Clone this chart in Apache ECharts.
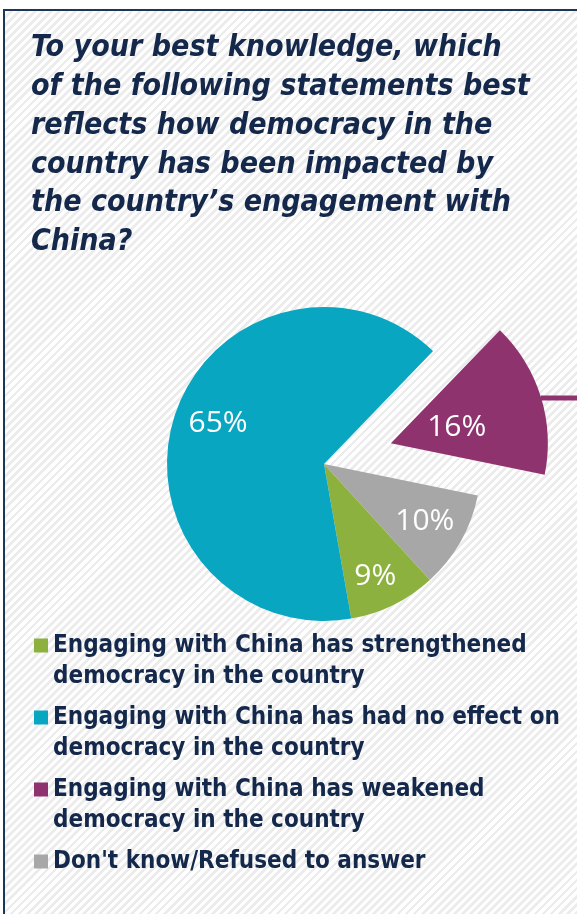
<!DOCTYPE html>
<html><head><meta charset="utf-8">
<script src="https://cdn.jsdelivr.net/npm/echarts@6/dist/echarts.min.js"></script>
<style>
html,body{margin:0;padding:0;background:#fff;}
#wrap{position:relative;width:577px;height:914px;overflow:hidden;background:#fff;}
#frame{position:absolute;left:3px;top:9px;width:600px;height:920px;border-top:2px solid #1d3557;border-left:2px solid #1d3557;
background:repeating-linear-gradient(135deg,#ffffff 0px,#ffffff 3px,#ececec 3px,#ececec 5.7px);}
#chart{position:absolute;left:0;top:0;width:577px;height:914px;}
</style></head>
<body><div id="wrap"><div id="frame"></div><div id="chart"></div></div>
<script>
// ---- data ----
const titleLines = [
  "To your best knowledge, which",
  "of the following statements best",
  "reflects how democracy in the",
  "country has been impacted by",
  "the country\u2019s engagement with",
  "China?"
];
const categories = [
  "Engaging with China has strengthened democracy in the country",
  "Engaging with China has had no effect on democracy in the country",
  "Engaging with China has weakened democracy in the country",
  "Don't know/Refused to answer"
];
const legendLines = [
  ["Engaging with China has strengthened", "democracy in the country"],
  ["Engaging with China has had no effect on", "democracy in the country"],
  ["Engaging with China has weakened", "democracy in the country"],
  ["Don't know/Refused to answer", " "]
];
const values = [9, 65, 16, 10];
const pieOrder = [2, 3, 0, 1];   // clockwise order of slices
const explodedIndex = 2;

// ---- styling ----
const palette = ['#8DB13F', '#08A6C1', '#8F336F', '#A7A7A8'];
const navy = '#14284B';

// font helpers (pick an installed family, fit size to the reference text widths)
const cv = document.createElement('canvas').getContext('2d');
function w(font, s) { cv.font = font; return cv.measureText(s).width; }
function installed(fam, style) {
  const s = 'mmmmmmmmmmlliiWWW@#0123';
  return w(style + ' 30px "' + fam + '", monospace', s) !== w(style + ' 30px monospace', s) &&
         w(style + ' 30px "' + fam + '", serif', s) !== w(style + ' 30px serif', s);
}
const fam = installed('DejaVu Sans Condensed', 'italic bold') ? 'DejaVu Sans Condensed' : 'DejaVu Sans';
const titleSize = 30 * 499 / w('italic bold 30px "' + fam + '"', titleLines[1]);
const legendSize = 30 * 507 / w('bold 30px "' + fam + '"', legendLines[1][0]);

// per-slice label nudges
const labelCfg = {
  0: {padding: [0, 0, 0, 0], lineHeight: 17, pre: '\n', post: ''},
  1: {padding: [0, 0, 0, 10], lineHeight: 14, pre: '', post: '\n'},
  2: {padding: [0, 90, 0, 0], lineHeight: 36, pre: '\n', post: ''},
  3: {padding: [0, 0, 0, 0], lineHeight: 30, pre: '', post: ''}
};

const solidData = pieOrder.map(i => ({
  name: categories[i], value: values[i], selected: i === explodedIndex,
  itemStyle: {color: palette[i]}
}));
const labelData = pieOrder.map(i => ({
  name: categories[i], value: values[i], selected: i === explodedIndex,
  label: {
    padding: labelCfg[i].padding, lineHeight: labelCfg[i].lineHeight,
    formatter: labelCfg[i].pre + values[i] + '%' + labelCfg[i].post
  }
}));

const iconTop = 'path://M0,8.5H14V22.5H0Z M0,0L0,0 M14,62L14,62';

const chart = echarts.init(document.getElementById('chart'), null, {renderer: 'canvas'});
chart.setOption({
  animation: false,
  backgroundColor: 'transparent',
  title: {
    text: titleLines.join('\n'),
    left: 31, top: 29, padding: 0,
    textStyle: {
      fontFamily: fam, fontStyle: 'italic', fontWeight: 'bold',
      fontSize: titleSize, lineHeight: 38.8, color: navy
    }
  },
  legend: {
    orient: 'vertical', left: 34, top: 630, padding: 0,
    itemWidth: 14, itemHeight: 62, itemGap: 10,
    selectedMode: false,
    icon: iconTop,
    itemStyle: {borderWidth: 0},
    data: categories,
    formatter: name => legendLines[categories.indexOf(name)].join('\n'),
    textStyle: {
      fontFamily: fam, fontWeight: 'bold', fontSize: legendSize,
      lineHeight: 31, color: navy
    }
  },
  series: [{
    type: 'pie', name: 'solid',
    center: [324, 464], radius: 157,
    startAngle: 46, clockwise: true,
    selectedMode: 'single', selectedOffset: 70,
    silent: true,
    label: {show: false}, labelLine: {show: false},
    itemStyle: {borderWidth: 0},
    select: {itemStyle: {borderWidth: 0}},
    emphasis: {disabled: true},
    data: solidData
  }, {
    type: 'pie', name: 'labels',
    center: [324, 464], radius: [69, 157],
    startAngle: 46, clockwise: true,
    selectedMode: 'single', selectedOffset: 70,
    silent: true,
    itemStyle: {color: 'rgba(0,0,0,0)', borderWidth: 0},
    select: {itemStyle: {color: 'rgba(0,0,0,0)', borderWidth: 0}, label: {color: '#fff'}},
    emphasis: {disabled: true},
    labelLine: {show: false},
    label: {
      show: true, position: 'inside', color: '#fff',
      fontFamily: 'Open Sans', fontSize: 30
    },
    data: labelData
  }],
  graphic: [{
    type: 'line', silent: true,
    shape: {x1: 541, y1: 398, x2: 580, y2: 398},
    style: {stroke: palette[2], lineWidth: 5}
  }]
});
</script>
</body></html>
